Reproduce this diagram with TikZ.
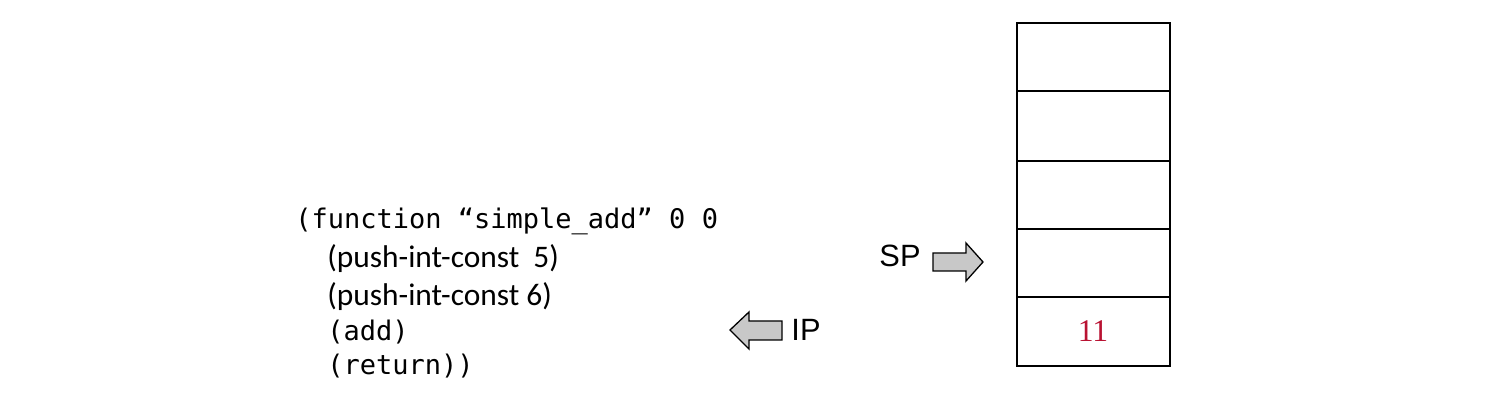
\documentclass[tikz,border=0pt]{standalone}
\usepackage{fontspec}
\newfontfamily\codemono{DejaVu Sans Mono}
\newfontfamily\codecal{Carlito}
\newfontfamily\lblsans{Liberation Sans}
\newfontfamily\numserif{Liberation Serif}
\definecolor{numred}{RGB}{185,18,50}
\definecolor{arrowgray}{RGB}{200,200,200}
\begin{document}
\begin{tikzpicture}[x=0.5pt,y=-0.5pt,
  monoline/.style={anchor=base west,inner sep=0pt,font=\codemono\fontsize{13.5pt}{16pt}\selectfont},
  calline/.style={anchor=base west,inner sep=0pt,font=\codecal\fontsize{15.7pt}{18pt}\selectfont},
  ptrlabel/.style={inner sep=0pt,font=\lblsans\fontsize{15.4pt}{18pt}\selectfont},
  blockarrow/.style={draw=black,line width=0.65pt,fill=arrowgray,line join=miter},
  stackcell/.style={draw=black,line width=1pt}]
\useasboundingbox (0,0) rectangle (1500,410);
% code
\node[monoline] (l1) at (295,229) {(function “simple\_add” 0 0};
\node[calline] (l2) at (327,268) {(push-int-const\ \ 5)};
\node[calline] (l3) at (327,306) {(push-int-const 6)};
\node[monoline] (l4) at (327,341) {(add)};
\node[monoline] (l5) at (327,375) {(return))};
% stack
\draw[stackcell] (1017,23) rectangle (1170,366);
\draw[stackcell] (1017,91) -- (1170,91);
\draw[stackcell] (1017,161) -- (1170,161);
\draw[stackcell] (1017,229) -- (1170,229);
\draw[stackcell] (1017,297) -- (1170,297);
\node[inner sep=0pt,text=numred,font=\numserif\fontsize{15.8pt}{18pt}\selectfont] (val) at (1093,331) {11};
% SP pointer
\node[ptrlabel] (sp) at (900,256) {SP};
\draw[blockarrow] (933,253) -- (966,253) -- (966,243) -- (983,262) -- (966,281) -- (966,271) -- (933,271) -- cycle;
% IP pointer
\node[ptrlabel] (ip) at (806,330) {IP};
\draw[blockarrow] (782,321) -- (749,321) -- (749,312) -- (730,330) -- (749,349) -- (749,340) -- (782,340) -- cycle;
\end{tikzpicture}
\end{document}
